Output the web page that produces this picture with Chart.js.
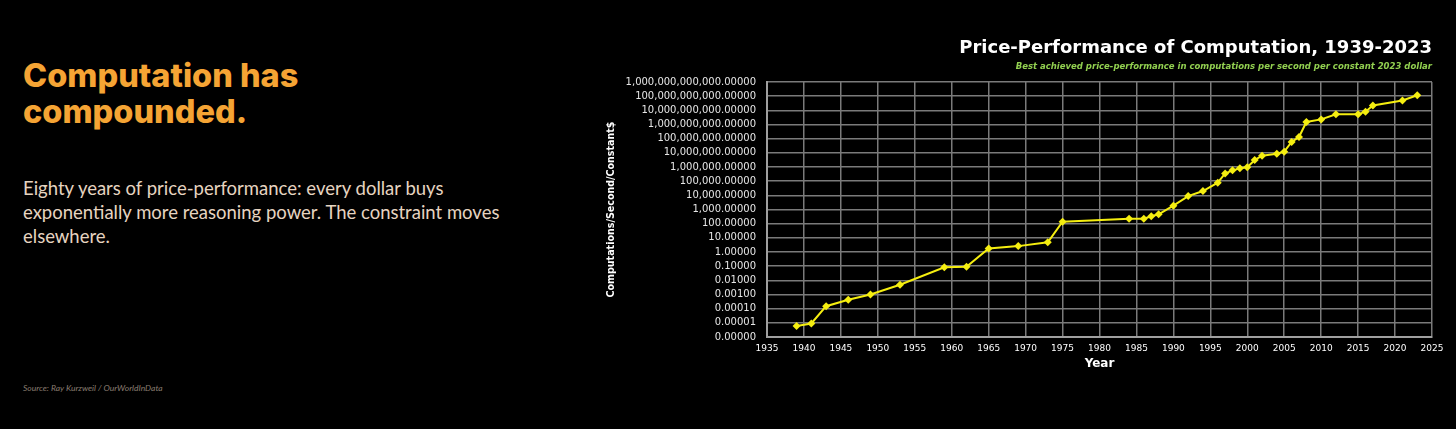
<!DOCTYPE html>
<html><head><meta charset="utf-8">
<script src="https://cdn.jsdelivr.net/npm/chart.js@4.4.1/dist/chart.umd.min.js"></script>
<style>
html,body{margin:0;padding:0;background:#000;width:1456px;height:429px;overflow:hidden;}
h1{position:absolute;left:23px;top:57.5px;margin:0;font-family:Inter,"Open Sans",sans-serif;font-weight:800;font-size:32.5px;line-height:36.5px;color:#f5a434;}
p.body{position:absolute;left:23px;top:176px;margin:0;font-family:Lato,sans-serif;font-size:18.5px;line-height:24px;color:#e6d4c0;}
.src{position:absolute;left:23px;top:383px;font-family:Lato,sans-serif;font-style:italic;font-size:8.5px;color:#8a7d70;}
#wrap{position:absolute;left:600px;top:0;width:856px;height:429px;}
</style></head>
<body>
<h1>Computation has<br>compounded.</h1>
<p class="body">Eighty years of price-performance: every dollar buys<br>exponentially more reasoning power. The constraint moves<br>elsewhere.</p>
<div class="src">Source: Ray Kurzweil / OurWorldInData</div>
<div id="wrap"><canvas id="c" width="856" height="429"></canvas></div>
<script>
const years = [1939,1941,1943,1946,1949,1953,1959,1962,1965,1969,1973,1975,1984,1986,1987,1988,1990,1992,1994,1996,1997,1998,1999,2000,2001,2002,2004,2005,2006,2007,2008,2010,2012,2015,2016,2017,2021,2023];
const computationsPerDollar = [6e-6,9e-6,1.5e-4,4.3e-4,1e-3,4.9e-3,0.083,0.09,1.8,2.6,4.8,137,224,224,330,457,1860,8900,2e4,7.8e4,3.5e5,5.8e5,8e5,9.5e5,3.1e6,6.3e6,8.7e6,1.2e7,5.8e7,1.3e8,1.5e9,2.3e9,5.2e9,5.2e9,8e9,2.2e10,5e10,1.15e11];
const xTicks = [1935,1940,1945,1950,1955,1960,1965,1970,1975,1980,1985,1990,1995,2000,2005,2010,2015,2020,2025];
const yTicks = [1e-6,1e-5,1e-4,1e-3,1e-2,1e-1,1,10,100,1e3,1e4,1e5,1e6,1e7,1e8,1e9,1e10,1e11,1e12];
const chartTitle = 'Price-Performance of Computation, 1939-2023';
const chartSubtitle = 'Best achieved price-performance in computations per second per constant 2023 dollar';

const gridOpts = {color:'#7a7a7a', lineWidth:1.5, drawTicks:false};
const borderOpts = {color:'#a0a0a0', width:2};

new Chart(document.getElementById('c'), {
  type:'line',
  data:{datasets:[{
    data: years.map((y,i)=>({x:y, y:computationsPerDollar[i]})),
    borderColor:'#f5ee10', backgroundColor:'#f5ee10', borderWidth:2,
    pointStyle:'rectRot', pointRadius:4, pointBorderWidth:0, tension:0
  }]},
  options:{
    responsive:false, animation:false,
    layout:{padding:{left:0,right:24,top:0,bottom:54}},
    plugins:{
      legend:{display:false}, tooltip:{enabled:false},
      title:{display:true, text:chartTitle, align:'end', color:'#ffffff',
        font:{family:'"DejaVu Sans", sans-serif', size:18, weight:'bold', lineHeight:1.2}, padding:{top:38,bottom:0}},
      subtitle:{display:true, text:chartSubtitle, align:'end', color:'#92d050',
        font:{family:'"DejaVu Sans", sans-serif', size:8.5, weight:'bold', style:'italic', lineHeight:1.2}, padding:{top:2.3,bottom:9.9}}
    },
    scales:{
      x:{type:'linear', min:1935, max:2025,
        afterBuildTicks:s=>{s.ticks = xTicks.map(v=>({value:v}));},
        afterFit:s=>{s.height = 38;},
        ticks:{autoSkip:false, maxRotation:0, color:'#ffffff', padding:6,
          font:{family:'"DejaVu Sans", sans-serif', size:9}, callback:v=>String(v)},
        grid:gridOpts, border:borderOpts,
        title:{display:true, text:'Year', color:'#ffffff',
          font:{family:'"DejaVu Sans", sans-serif', size:12, weight:'bold', lineHeight:1.2}, padding:{top:2,bottom:4}}
      },
      y:{type:'logarithmic', min:1e-6, max:1e12,
        afterBuildTicks:s=>{s.ticks = yTicks.map(v=>({value:v}));},
        afterFit:s=>{s.width = 167;},
        ticks:{autoSkip:false, color:'#e6e6e6', padding:11,
          font:{family:'"DejaVu Sans", sans-serif', size:10},
          callback:v=>Number(v).toLocaleString('en-US',{minimumFractionDigits:5, maximumFractionDigits:5})},
        grid:gridOpts, border:borderOpts,
        title:{display:true, text:'Computations/Second/Constant$', color:'#ffffff',
          font:{family:'"Liberation Sans Narrow", "DejaVu Sans Condensed", sans-serif', size:10.6, weight:'bold', lineHeight:1.2}, padding:{top:5,bottom:0}}
      }
    }
  }
});
</script>
</body></html>
